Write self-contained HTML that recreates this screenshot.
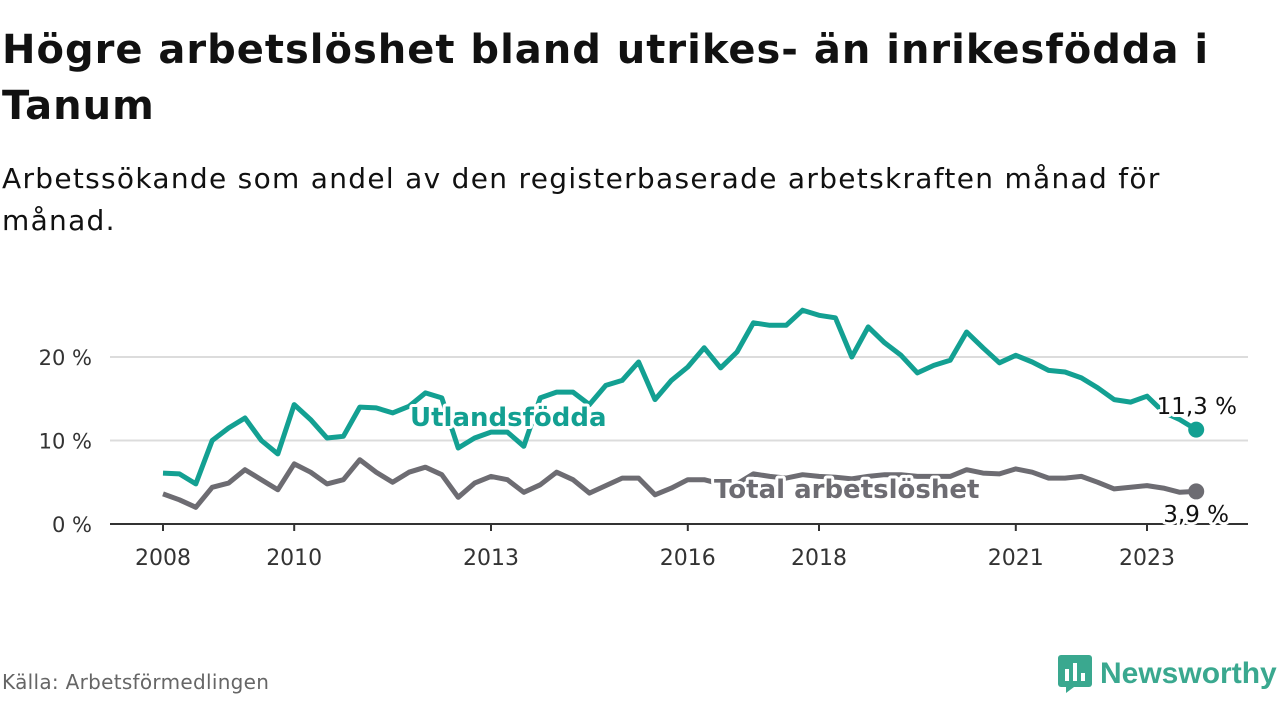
<!DOCTYPE html>
<html><head><meta charset="utf-8">
<style>
body{margin:0;width:1280px;height:720px;background:#fff;font-family:"DejaVu Sans","Liberation Sans",sans-serif;overflow:hidden;position:relative}
h1{position:absolute;left:2px;top:22px;margin:0;font-size:40px;line-height:56px;font-weight:bold;color:#111;width:1250px;letter-spacing:1px}
.sub{position:absolute;left:2px;top:158px;margin:0;font-size:28px;line-height:42px;color:#111;width:1180px;letter-spacing:1.3px}
.src{position:absolute;left:2px;top:670px;font-size:20px;color:#666;letter-spacing:0.3px}
.logo{position:absolute;left:1058px;top:655px;display:flex;align-items:center;gap:8px;color:#3aa88f;font-size:30px;font-weight:bold;font-family:"Liberation Sans",sans-serif}
</style></head><body>
<h1>Högre arbetslöshet bland utrikes- än inrikesfödda i Tanum</h1>
<p class="sub">Arbetssökande som andel av den registerbaserade arbetskraften månad för månad.</p>
<svg id="chart" width="1280" height="720" style="position:absolute;left:0;top:0;font-family:'DejaVu Sans','Liberation Sans',sans-serif"></svg>
<div class="src">Källa: Arbetsförmedlingen</div>
<div class="logo">
<svg width="34" height="38" viewBox="0 0 34 38"><rect x="0" y="0" width="34" height="32" rx="3" fill="#3aa88f"/><path d="M8 32 L8 38 L16 32Z" fill="#3aa88f"/><rect x="7" y="14" width="4" height="12" fill="#fff"/><rect x="15" y="8" width="4" height="18" fill="#fff"/><rect x="23" y="18" width="4" height="8" fill="#fff"/></svg>
<span>Newsworthy</span></div>
<script>
const years=[2008,2010,2013,2016,2018,2021,2023];
const yTicks=[0,10,20];
const startYear=2008;
const utland=[6.1,6.0,4.8,10,11.5,12.7,10,8.4,14.3,12.5,10.3,10.5,14,13.9,13.3,14.1,15.7,15.1,9.1,10.3,11,11,9.3,15.1,15.8,15.8,14.3,16.6,17.2,19.4,14.9,17.2,18.8,21.1,18.7,20.6,24.1,23.8,23.8,25.6,25,24.7,20,23.6,21.7,20.2,18.1,19,19.6,23,21.1,19.3,20.2,19.4,18.4,18.2,17.5,16.3,14.9,14.6,15.3,13.4,12.5,11.3];
const total=[3.6,2.9,2.0,4.4,4.9,6.5,5.3,4.1,7.2,6.2,4.8,5.3,7.7,6.2,5.0,6.2,6.8,5.9,3.2,4.9,5.7,5.3,3.8,4.7,6.2,5.3,3.7,4.6,5.5,5.5,3.5,4.3,5.3,5.3,4.8,4.8,6.0,5.7,5.5,5.9,5.7,5.6,5.4,5.7,5.9,5.9,5.7,5.7,5.7,6.5,6.1,6.0,6.6,6.2,5.5,5.5,5.7,5.0,4.2,4.4,4.6,4.3,3.8,3.9];
const NS="http://www.w3.org/2000/svg";
const svg=document.getElementById('chart');
const x=t=>163+(t-2008)*65.6;
const y=v=>524-v*8.35;
function mk(tag,attrs,txt){const e=document.createElementNS(NS,tag);for(const k in attrs)e.setAttribute(k,attrs[k]);if(txt!==undefined)e.textContent=txt;svg.appendChild(e);return e;}
yTicks.forEach(v=>{
 if(v>0){const g=mk('line',{x1:110,x2:1248,y1:y(v),y2:y(v),stroke:'#dcdcdc','stroke-width':2});
 
 }
 const t=mk('text',{x:92,y:y(v)+8,'text-anchor':'end','font-size':21,fill:'#333'},v+' %');
 
 
});
const ax=mk('line',{x1:110,x2:1248,y1:524,y2:524,stroke:'#333','stroke-width':2});


years.forEach(yr=>{
 const tk=mk('line',{x1:x(yr),x2:x(yr),y1:524,y2:531,stroke:'#333','stroke-width':2});
 
 
 const t=mk('text',{x:x(yr),y:565,'text-anchor':'middle','font-size':22,fill:'#333'},yr);
 
 
});
function line(data,color,name){
 const d=data.map((v,i)=>(i?'L':'M')+x(startYear+i*0.25).toFixed(1)+' '+y(v).toFixed(1)).join(' ');
 const p=mk('path',{d:d,fill:'none',stroke:color,'stroke-width':5,'stroke-linejoin':'round'});
 
 
 const li=data.length-1;
 const c=mk('circle',{cx:x(startYear+li*0.25),cy:y(data[li]),r:8,fill:color});
 
 
}
line(total,'#6d6c72','total');
line(utland,'#13a092','utlandsfodda');
function label(tx,xx,yy,opts,name){
 const t=mk('text',Object.assign({x:xx,y:yy,stroke:'#fff','stroke-width':6,'paint-order':'stroke','stroke-linejoin':'round'},opts),tx);
 
 
}
label('Utlandsfödda',410,426,{'font-size':26,'font-weight':'bold',fill:'#13a092'},'utlandsfodda-label');
label('Total arbetslöshet',714,498,{'font-size':26,'font-weight':'bold',fill:'#6d6c72'},'total-label');
label('11,3 %',1237,414,{'font-size':23,fill:'#111','text-anchor':'end'},'utlandsfodda-value-label');
label('3,9 %',1229,522,{'font-size':23,fill:'#111','text-anchor':'end'},'total-value-label');
</script>
</body></html>
